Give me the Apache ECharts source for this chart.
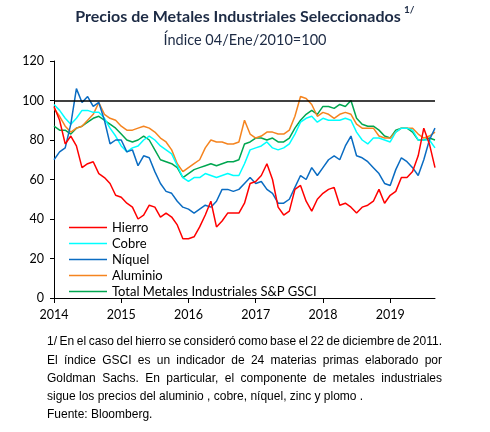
<!DOCTYPE html>
<html>
<head>
<meta charset="UTF-8">
<title>Precios de Metales Industriales Seleccionados</title>
<script src="https://cdn.jsdelivr.net/npm/echarts@6/dist/echarts.min.js"></script>
<style>html,body,#container{width:100%;height:100%;margin:0;padding:0;background:#fff;}</style>
</head>
<body>
<div id="container"></div>
<script>
// meses ene-2014 .. sep-2019
var years = ['2014', '2015', '2016', '2017', '2018', '2019'];
var monthNums = ['01','02','03','04','05','06','07','08','09','10','11','12'];
var months = [];
years.forEach(function (y) {
	monthNums.forEach(function (m) {
		if (y === '2019' && m > '09') return;
		months.push(y + '-' + m);
	});
});

// indices (aprox. inicio de cada mes)
var hierro = [97,90,78,82,77,66,68,69,63,61,58,52,
	51,48,46,40,42,47,46,41,43,41,37,30,
	30,31,36,42,49,36,39,43,43,43,48,58,
	59,62,68,60,46,42,44,55,57,49,44,50,
	53,55,56,47,48,46,43,46,47,49,55,48,
	52,54,61,61,64,72,86,78,66];
var cobre = [98,95,91,88,91,95,95,94,94,91,86,82,
	77,74,76,77,80,82,80,77,75,73,67,61,
	59,61,61,63,62,61,62,63,62,62,68,75,
	76,77,79,76,75,76,78,83,89,91,92,89,
	91,90,90,90,91,90,84,80,78,81,81,80,
	79,84,86,86,85,80,80,80,76];
var niquel = [70,74,76,88,106,99,102,97,99,90,78,80,
	80,74,75,67,72,71,64,58,54,53,49,46,
	45,43,45,47,46,49,55,55,54,55,58,61,
	58,59,55,53,48,48,50,56,62,60,66,62,
	66,70,72,70,77,82,72,71,69,66,63,58,
	57,65,71,69,66,62,70,80,86];
var aluminio = [96,92,87,84,86,87,90,93,99,93,91,90,
	87,85,85,86,87,86,84,81,79,75,68,64,
	66,68,70,76,80,79,79,78,78,79,90,83,
	81,82,84,84,83,83,85,92,102,101,98,92,
	94,93,91,93,94,93,88,86,86,86,82,81,
	81,84,86,86,86,83,81,82,84];
var totalGsci = [87,85,85,83,86,87,89,91,92,90,88,86,
	83,80,79,80,82,80,75,70,69,68,66,61,
	63,65,66,67,68,67,68,69,69,70,78,79,
	81,81,80,81,79,79,81,86,90,93,95,93,
	97,97,96,98,97,100,91,88,87,87,85,82,
	81,85,86,86,84,80,80,81,80];

var notas = [
	['1/ En el caso del hierro se consideró como base el 22 de diciembre de 2011.', true],
	['El índice GSCI es un indicador de 24 materias primas elaborado por', true],
	['Goldman Sachs. En particular, el componente de metales industriales', true],
	['sigue los precios del aluminio , cobre, níquel, zinc y plomo .', false],
	['Fuente: Bloomberg.', false]
];

var noteFont = '12px "Liberation Sans", Arial, sans-serif';
var ctx = document.createElement('canvas').getContext('2d');
ctx.font = noteFont;

// texto justificado palabra por palabra
function noteLine(text, x0, x1, y, justify) {
	if (!justify) {
		return [{ type: 'text', x: x0, y: y, style: { text: text, font: noteFont, fill: '#000', verticalAlign: 'middle' } }];
	}
	var words = text.split(' ');
	var total = 0;
	words.forEach(function (w) { total += ctx.measureText(w).width; });
	var gap = (x1 - x0 - total) / (words.length - 1);
	var x = x0, out = [];
	words.forEach(function (w) {
		out.push({ type: 'text', x: x, y: y, style: { text: w, font: noteFont, fill: '#000', verticalAlign: 'middle' } });
		x += ctx.measureText(w).width + gap;
	});
	return out;
}

var graphics = [
	{ type: 'text', x: 238, y: 17, style: { text: 'Precios de Metales Industriales Seleccionados', font: 'bold 16px Lato, sans-serif', fill: '#1c2a44', align: 'center', verticalAlign: 'middle' } },
	{ type: 'text', x: 404, y: 10, style: { text: '1/', font: 'bold 10px Lato, sans-serif', fill: '#1c2a44', verticalAlign: 'middle' } },
	{ type: 'text', x: 245, y: 40, style: { text: 'Índice 04/Ene/2010=100', font: '14.5px Lato, sans-serif', fill: '#1c2a44', align: 'center', verticalAlign: 'middle' } }
];
var noteY = [342, 361, 379, 397, 415];
notas.forEach(function (n, i) {
	graphics = graphics.concat(noteLine(n[0], 47, 442, noteY[i], n[1]));
});

function serie(name, data, color, extra) {
	var s = {
		name: name, type: 'line', data: data, symbol: 'none',
		lineStyle: { width: 1.5, color: color }, itemStyle: { color: color },
		animation: false
	};
	if (extra) s.markLine = extra;
	return s;
}

var myChart = echarts.init(document.getElementById('container'));
myChart.setOption({
	animation: false,
	grid: { left: 54, right: 55, top: 61, bottom: 134 },
	legend: {
		orient: 'vertical', left: 64, top: 216,
		icon: 'rect', itemWidth: 38, itemHeight: 1.5, itemGap: 3,
		textStyle: { fontFamily: 'Lato', fontSize: 13, color: '#000' },
		data: ['Hierro', 'Cobre', 'Níquel', 'Aluminio', 'Total Metales Industriales S&P GSCI']
	},
	xAxis: {
		type: 'category', data: months, boundaryGap: false,
		axisLine: { lineStyle: { color: '#000', width: 1 } },
		axisTick: { interval: function (i) { return i % 12 === 0; }, length: 5, lineStyle: { color: '#000' } },
		axisLabel: {
			interval: function (i) { return i % 12 === 0; },
			formatter: function (v) { return v.slice(0, 4); },
			fontFamily: 'Lato', fontSize: 12.5, color: '#000', margin: 10
		},
		splitLine: { show: false }
	},
	yAxis: {
		type: 'value', min: 0, max: 120, interval: 20,
		axisLine: { show: true, lineStyle: { color: '#000', width: 1 } },
		axisTick: { show: true, length: 4, lineStyle: { color: '#000' } },
		axisLabel: { fontFamily: 'Lato', fontSize: 12.5, color: '#000', margin: 10 },
		splitLine: { show: false }
	},
	series: [
		serie('Total Metales Industriales S&P GSCI', totalGsci, '#00a650'),
		serie('Aluminio', aluminio, '#f5841f'),
		serie('Cobre', cobre, '#00ffff'),
		serie('Níquel', niquel, '#0a6cc2'),
		serie('Hierro', hierro, '#ff0000', {
			silent: true, symbol: 'none', label: { show: false },
			lineStyle: { color: '#000', type: 'solid', width: 1.5 },
			data: [{ yAxis: 100 }]
		})
	],
	graphic: graphics
});

window.onresize = function () {
	myChart.resize();
};
</script>
</body>
</html>
